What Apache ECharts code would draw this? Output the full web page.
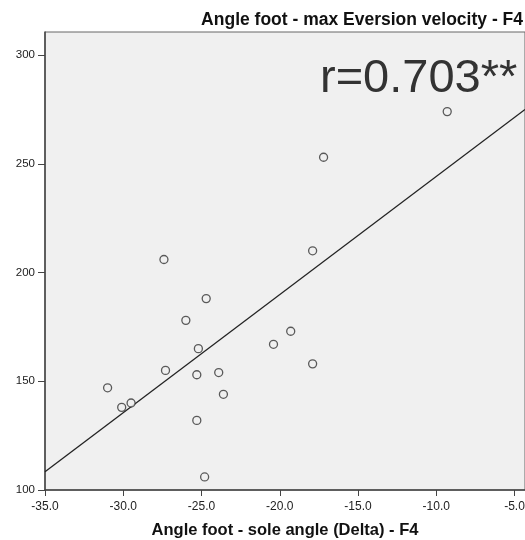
<!DOCTYPE html>
<html>
<head>
<meta charset="utf-8">
<script src="https://cdn.jsdelivr.net/npm/echarts@6/dist/echarts.min.js"></script>
<style>
  html, body { margin: 0; padding: 0; background: #fff; }
  #chart { width: 525px; height: 540px; }
</style>
</head>
<body>
<div id="chart"></div>
<script>
// sole angle delta (x) vs max eversion velocity (y)
const soleAngle = [-9.3, -17.2, -17.9, -27.4, -24.7, -26.0, -25.2, -27.3, -25.3, -23.9,
  -23.6, -31.0, -30.1, -29.5, -25.3, -24.8, -20.4, -19.3, -17.9];
const eversionVel = [274, 253, 210, 206, 188, 178, 165, 155, 153, 154,
  144, 147, 138, 140, 132, 106, 167, 173, 158];
// fit line end points
const fitX = [-35, -4.33];
const fitY = [108.4, 275];
const xTicks = [-35, -30, -25, -20, -15, -10, -5];
const yTicks = [100, 150, 200, 250, 300];
const rLabel = 'r=0.703**';

const chart = echarts.init(document.getElementById('chart'));

const points = soleAngle.map((x, i) => [x, eversionVel[i]]);
const fitLine = fitX.map((x, i) => [x, fitY[i]]);

const font = 'Arial, "Liberation Sans", sans-serif';

chart.setOption({
  animation: false,
  title: {
    text: 'Angle foot - max Eversion velocity - F4',
    right: -3,
    top: 6,
    textStyle: { fontFamily: font, fontSize: 17.5, fontWeight: 'bold', color: '#111' }
  },
  grid: {
    left: 45,
    right: 0,
    top: 32,
    bottom: 50,
    outerBoundsMode: 'none',
    containLabel: false,
    show: true,
    backgroundColor: '#f0f0f0',
    borderColor: '#666',
    borderWidth: 1
  },
  xAxis: {
    type: 'value',
    min: -35,
    max: -4.33,
    interval: 5,
    name: 'Angle foot - sole angle (Delta) - F4',
    nameLocation: 'middle',
    nameGap: 32,
    nameTextStyle: { fontFamily: font, fontSize: 16.5, fontWeight: 'bold', color: '#111' },
    axisLine: { onZero: false, lineStyle: { color: '#444', width: 1.5 } },
    axisTick: { length: 6, lineStyle: { color: '#444' }, customValues: xTicks },
    axisLabel: {
      customValues: xTicks,
      fontFamily: font, fontSize: 12, color: '#222', margin: 11,
      formatter: v => v.toFixed(1)
    },
    splitLine: { show: false }
  },
  yAxis: {
    type: 'value',
    min: 100,
    max: 310.6,
    interval: 50,
    axisLine: { show: true, onZero: false, lineStyle: { color: '#444', width: 1.5 } },
    axisTick: { show: true, length: 7, lineStyle: { color: '#444' }, customValues: yTicks },
    axisLabel: {
      customValues: yTicks,
      fontFamily: font, fontSize: 11.5, color: '#222', margin: 10
    },
    splitLine: { show: false }
  },
  graphic: [{
    type: 'text',
    left: 320,
    top: 56,
    z: 10,
    style: {
      text: rLabel,
      font: '47px Arial, "Liberation Sans", sans-serif',
      fill: '#333'
    }
  }],
  series: [
    {
      type: 'line',
      data: fitLine,
      showSymbol: false,
      symbol: 'none',
      lineStyle: { color: '#222', width: 1.3 },
      silent: true,
      z: 2
    },
    {
      type: 'scatter',
      data: points,
      symbol: 'circle',
      symbolSize: 8,
      itemStyle: { color: '#f0f0f0', borderColor: '#333', borderWidth: 1.3 },
      z: 3
    }
  ]
});
</script>
</body>
</html>
